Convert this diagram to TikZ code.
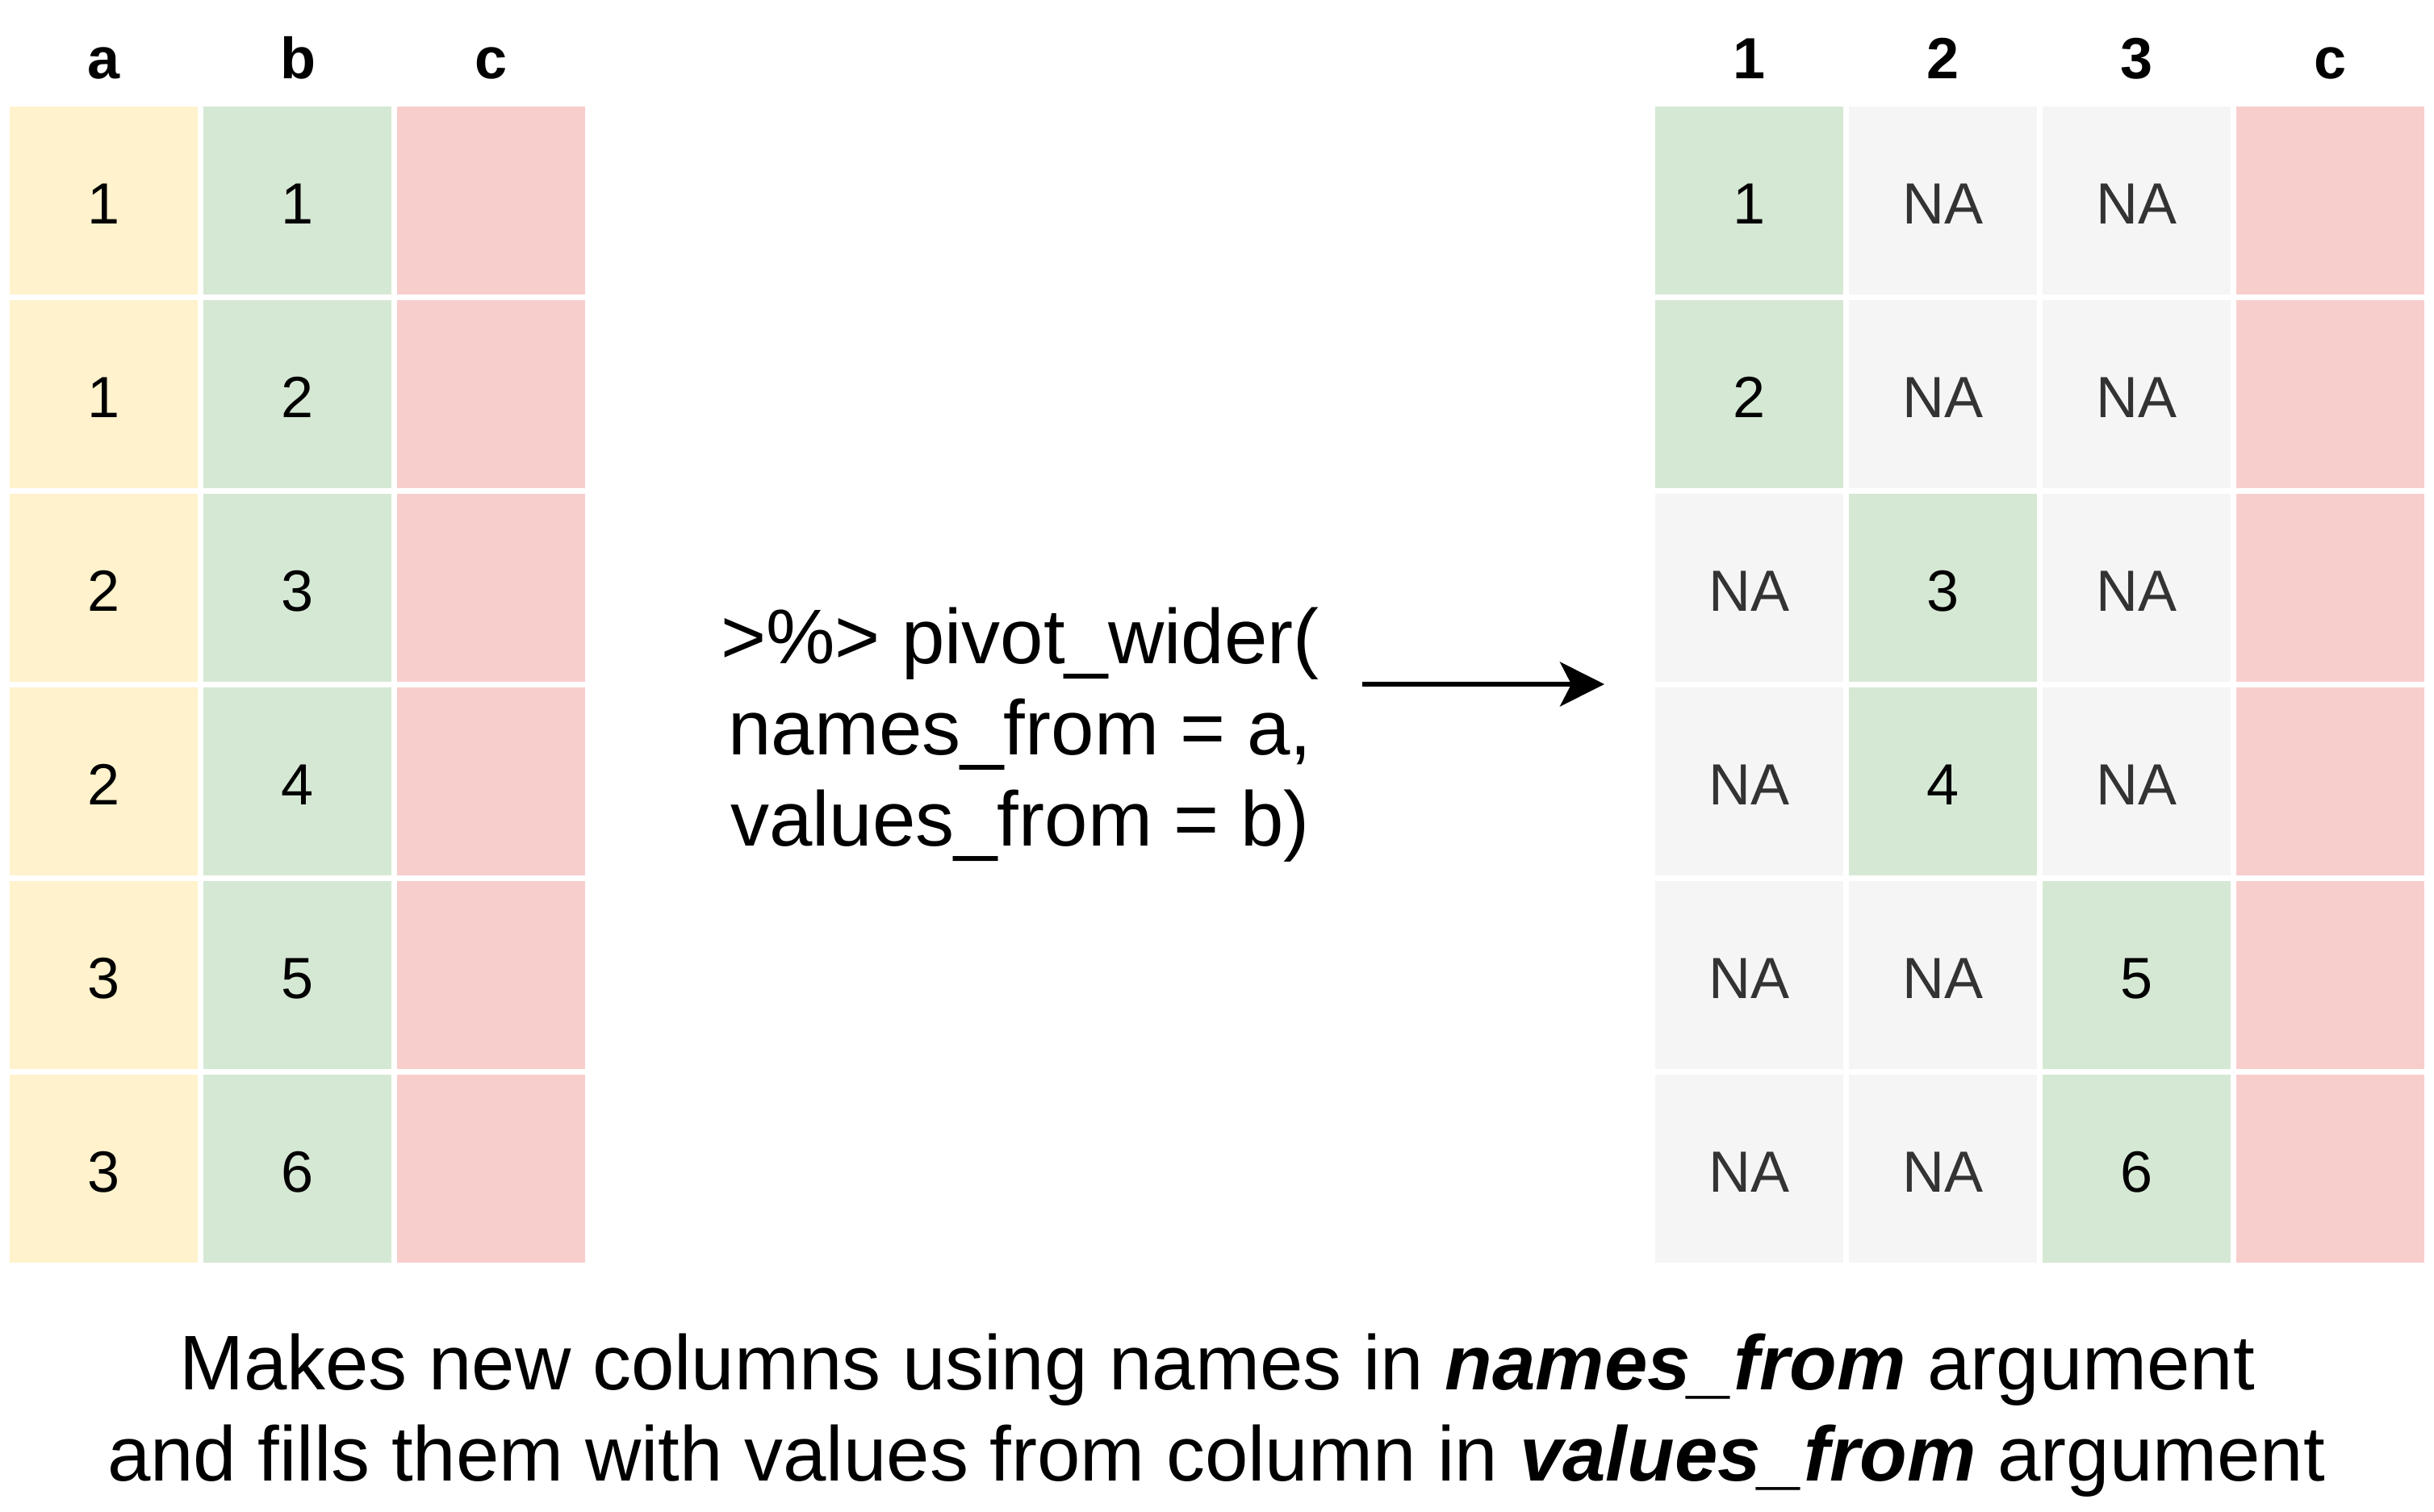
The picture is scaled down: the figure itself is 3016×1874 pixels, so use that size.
\documentclass[tikz,border=0pt]{standalone}
\usepackage{fontspec}
\setmainfont{Liberation Sans}
\usetikzlibrary{arrows.meta}
\definecolor{cyellow}{HTML}{FFF2CC}
\definecolor{cgreen}{HTML}{D5E8D4}
\definecolor{cred}{HTML}{F8CECC}
\definecolor{cgray}{HTML}{F5F5F5}
\definecolor{natext}{HTML}{333333}
\begin{document}
\begin{tikzpicture}[x=0.5pt,y=-0.5pt,
  cell/.style={anchor=north west, minimum width=116.5pt, minimum height=116.5pt,
    inner sep=0pt, text height=28.4pt, text depth=0pt, font=\fontsize{36}{43}\selectfont},
  ycell/.style={cell, fill=cyellow},
  gcell/.style={cell, fill=cgreen},
  rcell/.style={cell, fill=cred},
  nacell/.style={cell, fill=cgray, text=natext},
  hdr/.style={anchor=base, inner sep=0pt, font=\fontsize{36}{43}\selectfont\bfseries},
  bigtext/.style={anchor=base, inner sep=0pt, font=\fontsize{48}{56}\selectfont},
  arrowline/.style={line width=3.1pt, -{Stealth[length=27.5pt,width=27.5pt,inset=7pt]}}
]
\fill[white] (0,0) rectangle (3016,1874);
\useasboundingbox (0,0) rectangle (3016,1874);

% headers left
\node[hdr] (ha) at (129,97) {a};
\node[hdr] (hb) at (369,97) {b};
\node[hdr] (hc) at (608.5,97) {c};
% headers right
\node[hdr] (h1) at (2167.5,97) {1};
\node[hdr] (h2) at (2407.5,97) {2};
\node[hdr] (h3) at (2647.5,97) {3};
\node[hdr] (hrc) at (2887.5,97) {c};

% left table
\foreach \r/\av in {1/1,2/1,3/2,4/2,5/3,6/3}{
  \pgfmathsetmacro\yy{132+240*(\r-1)}
  \node[ycell] (a\r) at (12,\yy) {\av};
  \node[gcell] (b\r) at (252,\yy) {\r};
  \node[rcell] (c\r) at (492,\yy) {};
}

% right table
\foreach \r/\g in {1/1,2/1,3/2,4/2,5/3,6/3}{
  \pgfmathsetmacro\yy{132+240*(\r-1)}
  \foreach \k/\xx in {1/2051,2/2291,3/2531}{
    \ifnum\k=\g
      \node[gcell] (R\r-\k) at (\xx,\yy) {\r};
    \else
      \node[nacell] (R\r-\k) at (\xx,\yy) {NA};
    \fi
  }
  \node[rcell] (R\r-c) at (2771,\yy) {};
}

% middle code text
\node[bigtext] (m1) at (1264,822) {>\%> pivot\_wider(};
\node[bigtext] (m2) at (1264,935) {names\_from = a,};
\node[bigtext] (m3) at (1264,1048) {values\_from = b)};

% arrow
\coordinate (arrS) at (1688,848);
\coordinate (arrE) at (1988,848);
\draw[arrowline] (arrS) -- (arrE);

% bottom text
\node[bigtext] (t1) at (1508,1722) {Makes new columns using names in \textbf{\textit{names\_from}} argument};
\node[bigtext] (t2) at (1507,1835) {and fills them with values from column in \textbf{\textit{values\_from}} argument};
\end{tikzpicture}
\end{document}
